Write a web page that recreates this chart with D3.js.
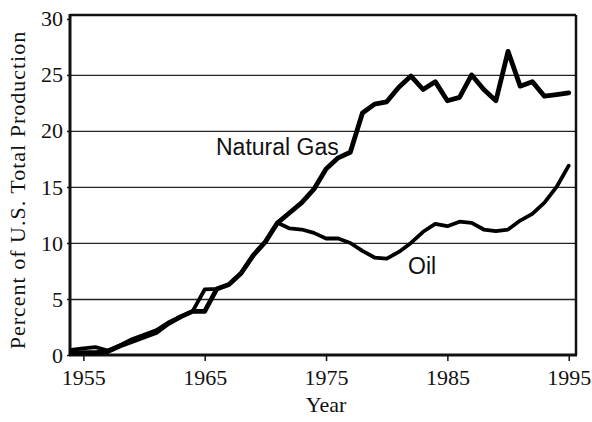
<!DOCTYPE html>
<html>
<head>
<meta charset="utf-8">
<script src="https://cdn.jsdelivr.net/npm/d3@7"></script>
<style>
  body { margin: 0; background: #fff; }
  #chart { width: 592px; height: 422px; }
</style>
</head>
<body>
<div id="chart"></div>
<script>
// years on the x axis
const years = [1954, 1955, 1956, 1957, 1958, 1959, 1960, 1961, 1962, 1963,
  1964, 1965, 1966, 1967, 1968, 1969, 1970, 1971, 1972, 1973,
  1974, 1975, 1976, 1977, 1978, 1979, 1980, 1981, 1982, 1983,
  1984, 1985, 1986, 1987, 1988, 1989, 1990, 1991, 1992, 1993,
  1994, 1995];

// percent of U.S. total production
const gasShare = [0.15, 0.2, 0.2, 0.3, 0.8, 1.2, 1.6, 2.0, 2.8, 3.4,
  3.9, 3.9, 5.9, 6.3, 7.3, 8.9, 10.1, 11.8, 12.7, 13.6,
  14.8, 16.6, 17.6, 18.1, 21.6, 22.4, 22.6, 23.9, 24.9, 23.7,
  24.4, 22.7, 23.0, 25.0, 23.7, 22.7, 27.1, 24.0, 24.4, 23.1,
  23.25, 23.4];

const oilShare = [0.45, 0.6, 0.7, 0.4, 0.85, 1.4, 1.8, 2.2, 2.9, 3.4,
  3.9, 5.85, 5.9, 6.3, 7.3, 8.9, 10.1, 11.8, 11.3, 11.2,
  10.9, 10.4, 10.4, 10.0, 9.3, 8.7, 8.6, 9.2, 10.0, 11.0,
  11.7, 11.5, 11.9, 11.8, 11.2, 11.05, 11.2, 12.0, 12.6, 13.6,
  15.0, 16.9];

const xTicks = [1955, 1965, 1975, 1985, 1995];
const yTicks = [0, 5, 10, 15, 20, 25, 30];
const gridTicks = [5, 10, 15, 20, 25];

const serif = "'Liberation Serif', 'Times New Roman', serif";
const sans = "'Liberation Sans', Arial, sans-serif";

const width = 592, height = 422;
const margin = { top: 15, right: 16, bottom: 67, left: 70 };
const innerWidth = width - margin.left - margin.right;
const innerHeight = height - margin.top - margin.bottom;

const svg = d3.select("#chart")
  .append("svg")
  .attr("width", width)
  .attr("height", height);

const xScale = d3.scaleLinear()
  .domain([1953.9, 1995.6])
  .range([margin.left, margin.left + innerWidth]);

const yScale = d3.scaleLinear()
  .domain([0, 30.35])
  .range([margin.top + innerHeight, margin.top]);

// horizontal grid lines
svg.append("g")
  .attr("transform", `translate(${margin.left}, 0)`)
  .call(d3.axisLeft(yScale).tickValues(gridTicks).tickSize(-innerWidth).tickFormat(""))
  .call(g => g.select(".domain").remove())
  .call(g => g.selectAll("line").attr("stroke", "#222").attr("stroke-width", 1.3));

// y axis labels with short outer ticks
svg.append("g")
  .attr("transform", `translate(${margin.left}, 0)`)
  .call(d3.axisLeft(yScale).tickValues(yTicks).tickSize(3).tickPadding(4))
  .attr("font-family", serif)
  .attr("font-size", 22)
  .call(g => g.select(".domain").remove())
  .call(g => g.selectAll("line").attr("stroke", "#111").attr("stroke-width", 1.5))
  .call(g => g.selectAll("text").attr("fill", "#111"));

// x axis
svg.append("g")
  .attr("transform", `translate(0, ${margin.top + innerHeight})`)
  .call(d3.axisBottom(xScale).tickValues(xTicks).tickSize(6).tickPadding(8).tickFormat(d3.format("d")))
  .attr("font-family", serif)
  .attr("font-size", 22)
  .call(g => g.select(".domain").remove())
  .call(g => g.selectAll("line").attr("stroke", "#111").attr("stroke-width", 1.5))
  .call(g => g.selectAll("text").attr("fill", "#111"));

// frame
const x0 = margin.left, x1 = margin.left + innerWidth;
const y0 = margin.top, y1 = margin.top + innerHeight;
svg.append("line").attr("x1", x0).attr("x2", x1).attr("y1", y0).attr("y2", y0)
  .attr("stroke", "#111").attr("stroke-width", 2.5);
svg.append("line").attr("x1", x1).attr("x2", x1).attr("y1", y0).attr("y2", y1)
  .attr("stroke", "#111").attr("stroke-width", 2.5);
svg.append("line").attr("x1", x0).attr("x2", x0).attr("y1", y0 - 1).attr("y2", y1 + 1)
  .attr("stroke", "#111").attr("stroke-width", 3);
svg.append("line").attr("x1", x0 - 1).attr("x2", x1 + 1).attr("y1", y1).attr("y2", y1)
  .attr("stroke", "#111").attr("stroke-width", 3);

// series
const gasData = years.map((yr, i) => ({ year: yr, value: gasShare[i] }));
const oilData = years.map((yr, i) => ({ year: yr, value: oilShare[i] }));

const line = d3.line()
  .x(d => xScale(d.year))
  .y(d => yScale(d.value));

svg.append("path")
  .datum(oilData)
  .attr("fill", "none")
  .attr("stroke", "#000")
  .attr("stroke-width", 3.8)
  .attr("stroke-linejoin", "round")
  .attr("stroke-linecap", "round")
  .attr("d", line);

svg.append("path")
  .datum(gasData)
  .attr("fill", "none")
  .attr("stroke", "#000")
  .attr("stroke-width", 4.8)
  .attr("stroke-linejoin", "round")
  .attr("stroke-linecap", "round")
  .attr("d", line);

// series labels
svg.append("text")
  .attr("x", 216)
  .attr("y", 155)
  .attr("font-family", sans)
  .attr("font-size", 23)
  .attr("fill", "#111")
  .text("Natural Gas");

svg.append("text")
  .attr("x", 408)
  .attr("y", 274)
  .attr("font-family", sans)
  .attr("font-size", 23)
  .attr("fill", "#111")
  .text("Oil");

// axis titles
svg.append("text")
  .attr("x", xScale(1975))
  .attr("y", 412)
  .attr("text-anchor", "middle")
  .attr("font-family", serif)
  .attr("font-size", 22)
  .attr("fill", "#111")
  .text("Year");

svg.append("text")
  .attr("transform", `translate(25, ${(y0 + y1) / 2 + 5}) rotate(-90)`)
  .attr("text-anchor", "middle")
  .attr("font-family", serif)
  .attr("font-size", 22)
  .attr("letter-spacing", 1)
  .attr("fill", "#111")
  .text("Percent of U.S. Total Production");
</script>
</body>
</html>
